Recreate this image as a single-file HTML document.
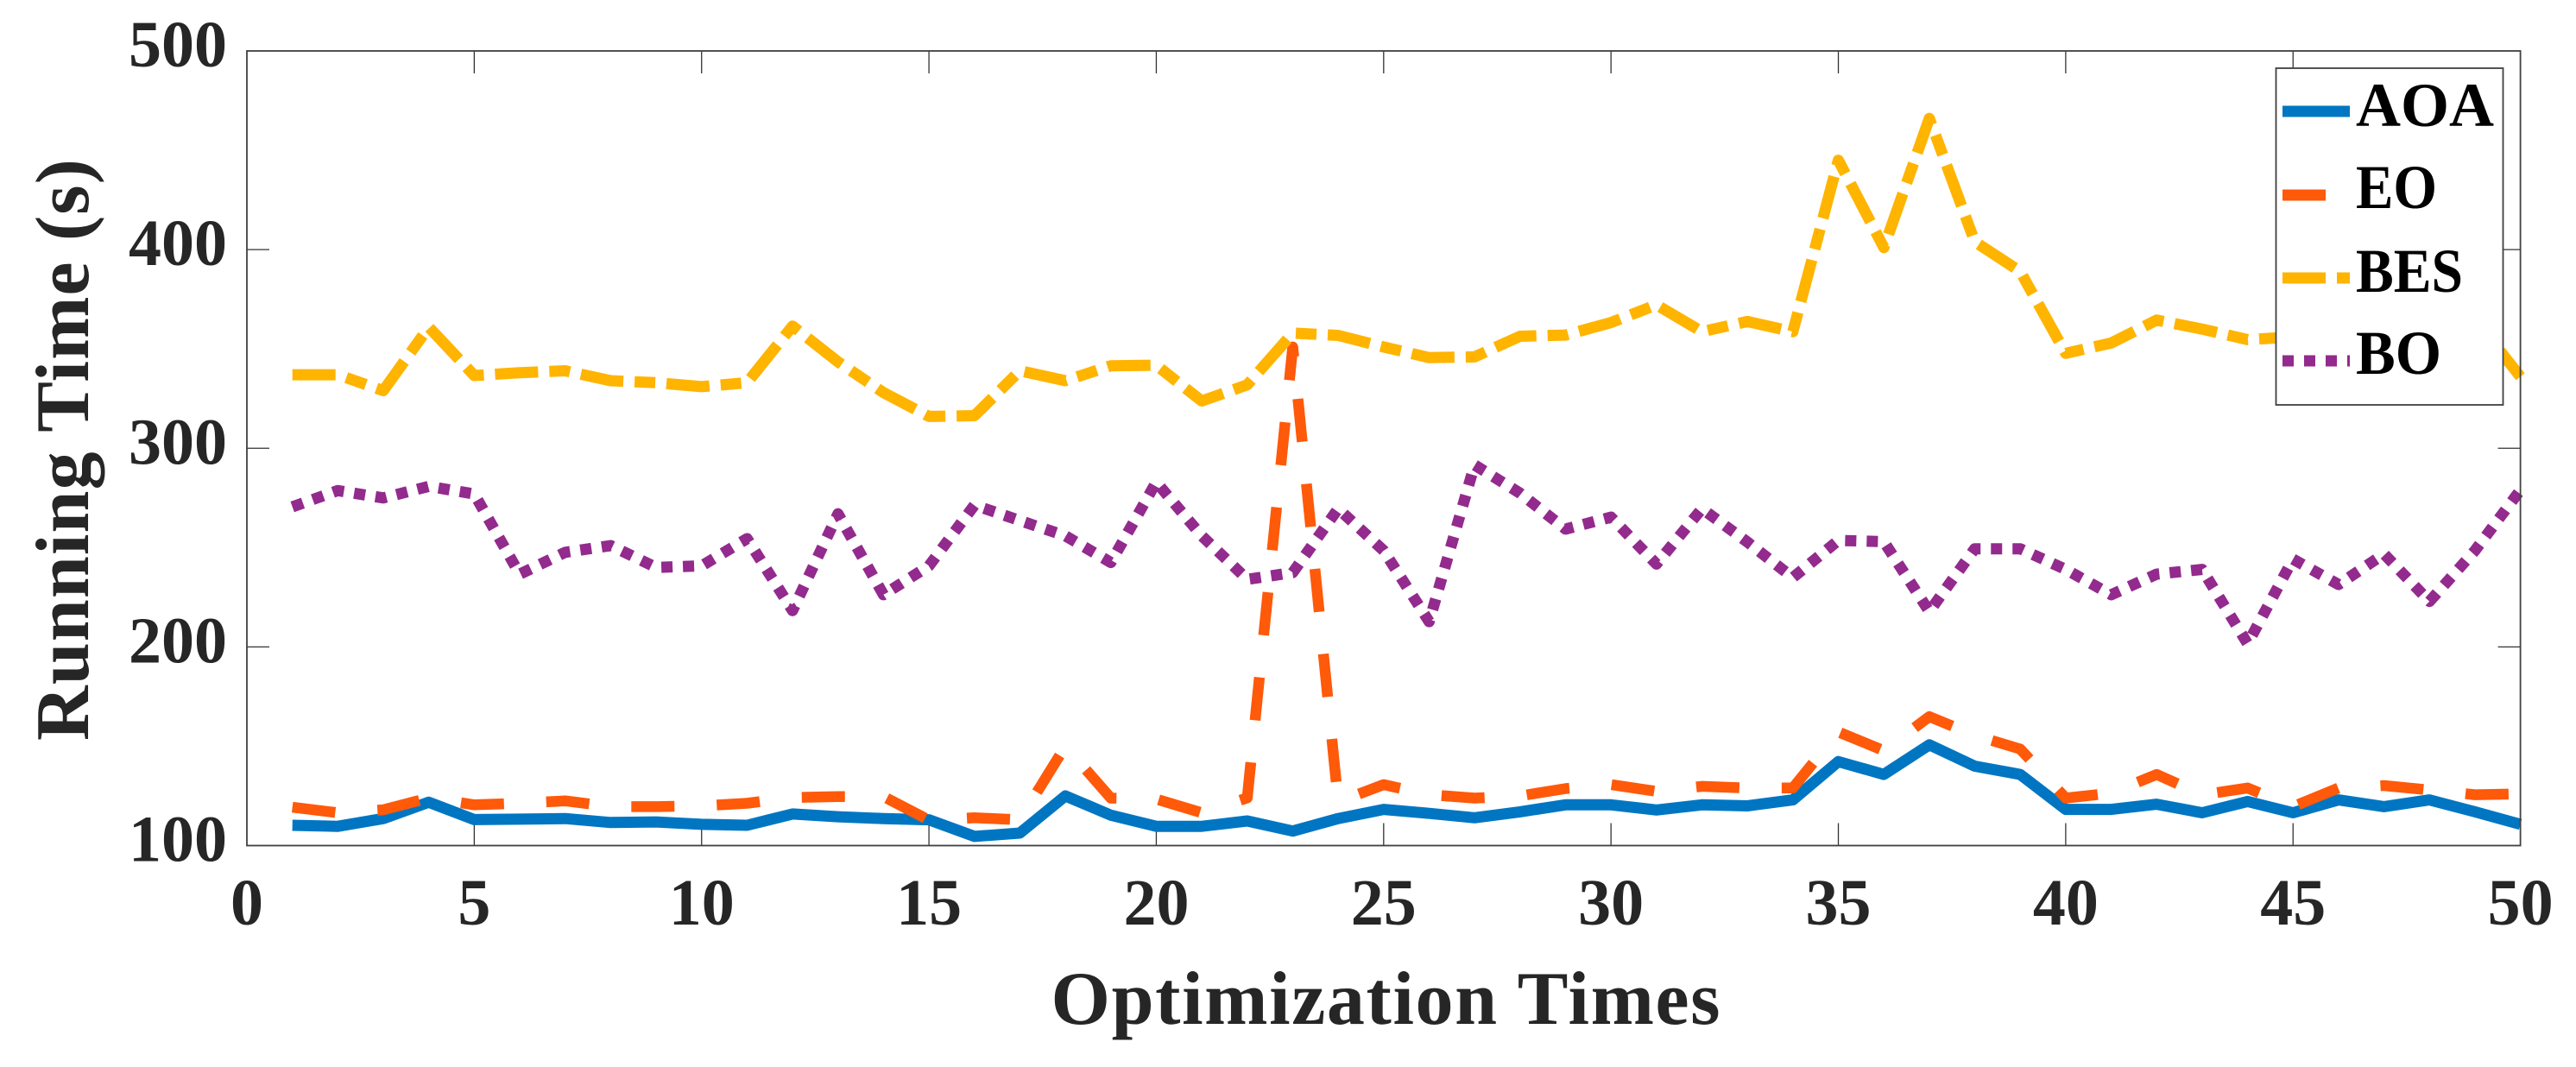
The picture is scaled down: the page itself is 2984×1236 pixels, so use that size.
<!DOCTYPE html>
<html lang="en">
<head>
<meta charset="utf-8">
<title>Running Time vs Optimization Times</title>
<style>
html,body{margin:0;padding:0;background:#fff;width:2984px;height:1236px;overflow:hidden}
svg{display:block}
text{font-family:"Liberation Serif",serif;font-weight:bold;fill:#262626}
</style>
</head>
<body>
<svg id="chart" xmlns="http://www.w3.org/2000/svg" width="2984" height="1236" viewBox="0 0 2984 1236">
  <rect x="0" y="0" width="2984" height="1236" fill="#fff"/>
  <g id="ticks"></g>
  <g id="series"></g>
  <rect x="286" y="59" width="2633.6" height="920.5" fill="none" stroke="#404040" stroke-width="1.8"/>
  <g id="tick-labels"></g>
  <text x="1605" y="1186" font-size="88" text-anchor="middle" textLength="775" lengthAdjust="spacing">Optimization Times</text>
  <text transform="translate(102,521) rotate(-90)" font-size="88" text-anchor="middle" textLength="674" lengthAdjust="spacing">Running Time (s)</text>
  <g id="legend">
    <rect x="2636.5" y="79" width="263" height="390" fill="#fff" stroke="#404040" stroke-width="1.8"/>
  </g>
</svg>
<script>
const iterations = [1,2,3,4,5,6,7,8,9,10,11,12,13,14,15,16,17,18,19,20,21,22,23,24,25,26,27,28,29,30,31,32,33,34,35,36,37,38,39,40,41,42,43,44,45,46,47,48,49,50];
const aoaValues = [110.2,109.7,113.6,121.8,113.1,113.3,113.6,111.6,111.9,110.7,110.2,115.9,114.5,113.6,113,104.6,106.3,125,115.3,109.7,109.7,112.4,107.3,113.6,118.2,116.2,114,117,120.5,120.5,117.9,120.5,120,123,142.3,135.8,150.7,140,135.8,118.2,118.2,120.8,116.5,122.2,116.5,123,119.6,123,117,110.7];
const eoValues = [119.3,116.5,118,124,120.5,121.3,122.5,119.6,119.6,120,121.3,124.2,124.7,124.7,112.8,114,113,150,123.9,123.4,116.5,124,351,122,130.7,125.6,123.9,125,128.7,130.7,127.3,129.8,129,129,157.2,147.8,164.9,155.5,148.6,123.9,126.4,135.8,125.6,129,119.6,129,130.2,128,125.6,126];
const besValues = [337,337,329,361,336.6,338,339,334,333,331,333,361.5,343.5,328,316,316.4,339,334,341.5,341.8,323.8,331.9,358,356.8,351,345.6,346,356.4,357,363.3,372.2,358.7,363.8,358.7,445,401,466,404,389,347.8,353,364.5,360,354.7,356,357,355,360,365,336];
const boValues = [270.5,278.7,275,280.8,277,236.6,247.6,251,240,240.8,254.5,218.3,267,226.3,240.8,271.4,263.6,255.9,242.5,283,255.9,234,237.4,269.6,248.5,212.7,291.6,277.4,259.3,265.3,241.7,269.6,252.8,234.9,253.6,253,217.8,249.4,249.4,239,226.3,236.6,239,201.6,244.2,231.4,246.8,222.9,248.5,279];
const xTickValues = [0,5,10,15,20,25,30,35,40,45,50];
const yTickValues = [100,200,300,400,500];

const NS = 'http://www.w3.org/2000/svg';
const xScale = v => 286 + (v / 50) * 2633.6;
const yScale = v => 979.5 - ((v - 100) / 400) * 920.5;
const TICK = 26;

function svgEl(tag, attrs) {
  const el = document.createElementNS(NS, tag);
  for (const k in attrs) el.setAttribute(k, attrs[k]);
  return el;
}

const ticksG = document.getElementById('ticks');
const labelsG = document.getElementById('tick-labels');
const seriesG = document.getElementById('series');
const legendG = document.getElementById('legend');

xTickValues.forEach(v => {
  const x = xScale(v);
  if (v !== 0 && v !== 50) {
    const b = svgEl('line', {x1:x, x2:x, y1:979.5, y2:979.5 - TICK, stroke:'#333', 'stroke-width':1.3});
    
    
    ticksG.appendChild(b);
    const t = svgEl('line', {x1:x, x2:x, y1:59, y2:59 + TICK, stroke:'#333', 'stroke-width':1.3});
    
    
    ticksG.appendChild(t);
  }
  const label = svgEl('text', {x:x, y:1071, 'font-size':76, 'text-anchor':'middle'});
  label.textContent = String(v);
  
  
  labelsG.appendChild(label);
});

yTickValues.forEach(v => {
  const y = yScale(v);
  if (v !== 100 && v !== 500) {
    const l = svgEl('line', {x1:286, x2:286 + TICK, y1:y, y2:y, stroke:'#333', 'stroke-width':1.3});
    
    
    ticksG.appendChild(l);
    const r = svgEl('line', {x1:2919.6, x2:2919.6 - TICK, y1:y, y2:y, stroke:'#333', 'stroke-width':1.3});
    
    
    ticksG.appendChild(r);
  }
  const label = svgEl('text', {x:263, y:y + 18, 'font-size':76, 'text-anchor':'end'});
  label.textContent = String(v);
  
  
  labelsG.appendChild(label);
});

function drawLine(values, color, dash, width, name) {
  const pts = values.map((v, i) => xScale(iterations[i]).toFixed(1) + ',' + yScale(v).toFixed(1)).join(' ');
  const line = svgEl('polyline', {points:pts, fill:'none', stroke:color, 'stroke-width':width, 'stroke-dasharray':dash, 'stroke-linejoin':'round', 'stroke-linecap':'butt'});
  
  
  seriesG.appendChild(line);
}
drawLine(aoaValues, '#0076C2', 'none', 13, 'aoa-line');
drawLine(eoValues, '#FF590A', '50 49', 12.5, 'eo-line');
drawLine(besValues, '#FFB400', '50 13 24 13', 13, 'bes-line');
drawLine(boValues, '#932A8D', '13 12', 13, 'bo-line');

function legendEntry(label, color, dash, sampleY, baseY, textWidth, name) {
  const s = svgEl('line', {x1:2644, x2:2722, y1:sampleY, y2:sampleY, stroke:color, 'stroke-width':13, 'stroke-dasharray':dash});
  
  
  legendG.appendChild(s);
  const t = svgEl('text', {x:2729, y:baseY, 'font-size':72, style:'fill:#000', textLength:textWidth, lengthAdjust:'spacingAndGlyphs'});
  t.textContent = label;
  
  
  legendG.appendChild(t);
}
legendEntry('AOA', '#0076C2', 'none', 129, 146, 160, 'legend-aoa');
legendEntry('EO', '#FF590A', '50 49', 226, 241, 94, 'legend-eo');
legendEntry('BES', '#FFB400', '50 13 24 13', 322, 338, 124, 'legend-bes');
legendEntry('BO', '#932A8D', '13 12', 418, 433, 99, 'legend-bo');
</script>
</body>
</html>
